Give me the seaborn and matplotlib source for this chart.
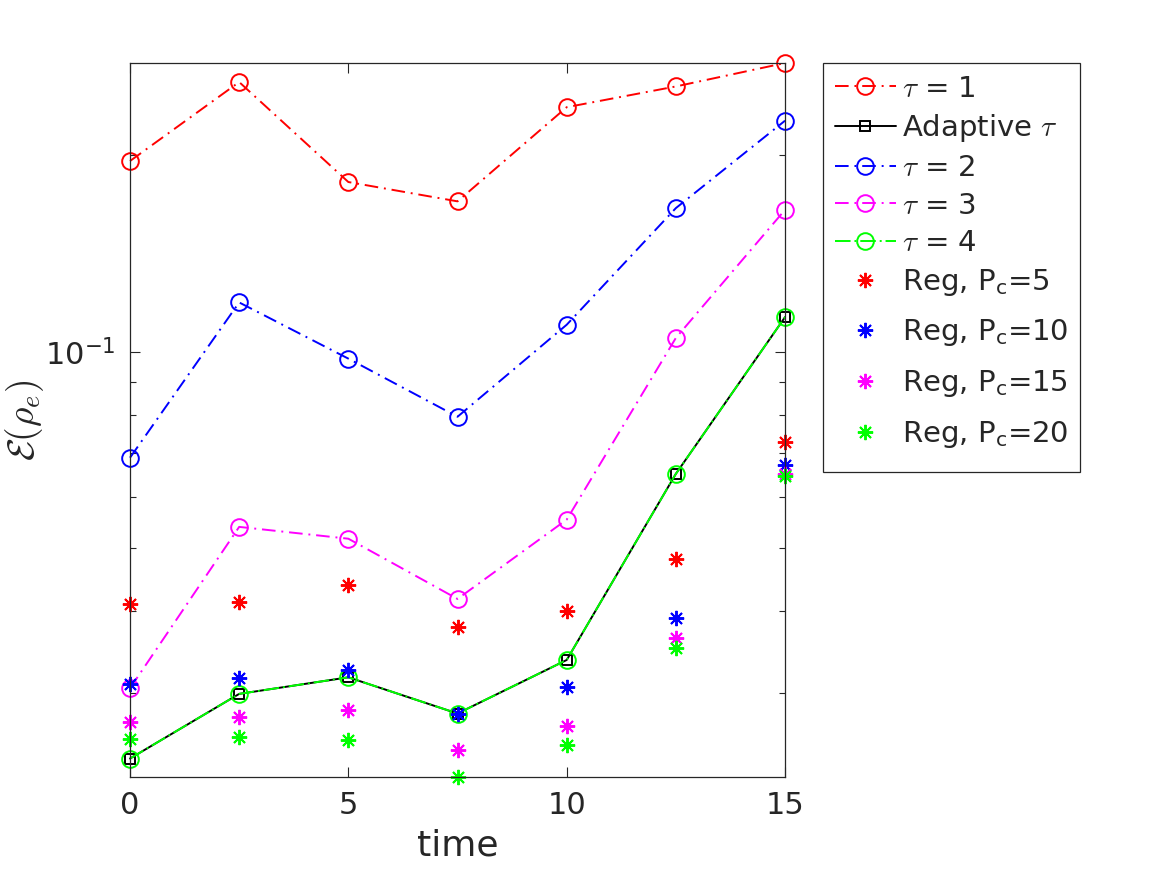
import numpy as np
import pandas as pd
import matplotlib
matplotlib.use("Agg")
import matplotlib.pyplot as plt
import seaborn as sns
from matplotlib.ticker import LogLocator, NullFormatter, FixedLocator, FixedFormatter

sns.set_style("ticks")
plt.rcParams['font.family'] = ['DejaVu Sans']

# valores
tiempos = [0, 2.5, 5, 7.5, 10, 12.5, 15]
tau_1 = [0.196, 0.259, 0.182, 0.170, 0.237, 0.255, 0.277]
adaptativo = [0.0238, 0.0299, 0.0317, 0.0279, 0.0337, 0.0650, 0.113]
tau_2 = [0.0688, 0.119, 0.0976, 0.0795, 0.110, 0.166, 0.226]
tau_3 = [0.0305, 0.0539, 0.0517, 0.0418, 0.0553, 0.105, 0.165]
tau_4 = [0.0238, 0.0299, 0.0317, 0.0279, 0.0337, 0.0650, 0.113]
reg_5 = [0.0411, 0.0414, 0.0439, 0.0379, 0.0401, 0.0482, 0.0728]
reg_10 = [0.0310, 0.0316, 0.0325, 0.0279, 0.0306, 0.0391, 0.0671]
reg_15 = [0.0271, 0.0276, 0.0282, 0.0245, 0.0267, 0.0364, 0.0650]
reg_20 = [0.0255, 0.0257, 0.0254, 0.0223, 0.0250, 0.0352, 0.0645]

etiquetas_tau = [r'$\tau$ = 1', r'Adaptive $\tau$', r'$\tau$ = 2', r'$\tau$ = 3', r'$\tau$ = 4']
etiquetas_reg = [r'Reg, P$_\mathregular{c}$=5', r'Reg, P$_\mathregular{c}$=10',
                 r'Reg, P$_\mathregular{c}$=15', r'Reg, P$_\mathregular{c}$=20']

rojo, azul, magenta, verde = '#FF0000', '#0000FF', '#FF00FF', '#00FF00'
punto_raya = (0, (7, 3, 1, 3))
asterisco = (8, 2, 0)

fig = plt.figure(figsize=(11.67, 8.75), dpi=100)
ax = fig.add_axes([0.1114, 0.112, 0.5613, 0.816])

# curvas con circulos
def curva(y, color, etiqueta, estilo=punto_raya, marker='o', ms=12):
    sns.lineplot(x=tiempos, y=y, ax=ax, color=color, linestyle=estilo, linewidth=1.4,
                 marker=marker, markersize=ms, markerfacecolor='none',
                 markeredgecolor=color, markeredgewidth=1.4, clip_on=False,
                 label=etiqueta, legend=False, errorbar=None)

curva(tau_1, rojo, etiquetas_tau[0])
curva(adaptativo, 'black', etiquetas_tau[1], estilo='-', marker='s', ms=7.5)
curva(tau_2, azul, etiquetas_tau[2])
curva(tau_3, magenta, etiquetas_tau[3])
curva(tau_4, verde, etiquetas_tau[4], estilo=(0, (8, 2, 1, 2)))

# regularizadas, solo asteriscos
for y, color, etiqueta in zip([reg_5, reg_10, reg_15, reg_20], [rojo, azul, magenta, verde], etiquetas_reg):
    sns.lineplot(x=tiempos, y=y, ax=ax, color=color, linestyle='none',
                 marker=asterisco, markersize=11, markeredgecolor=color,
                 markeredgewidth=1.4, clip_on=False, label=etiqueta,
                 legend=False, errorbar=None)

todos = tau_1 + tau_2 + tau_3 + tau_4 + reg_5 + reg_10 + reg_15 + reg_20
ax.set_yscale('log')
ax.set_xlim(0, 15)
ax.set_ylim(min(todos), max(todos))
ax.set_xticks([0, 5, 10, 15])
ax.yaxis.set_major_locator(FixedLocator([0.1]))
ax.yaxis.set_major_formatter(FixedFormatter([r'10$^{\mathregular{-1}}$']))
ax.yaxis.set_minor_locator(LogLocator(base=10, subs=np.arange(2, 10)))
ax.yaxis.set_minor_formatter(NullFormatter())

gris = '#262626'
for lado in ['top', 'right', 'bottom', 'left']:
    ax.spines[lado].set_visible(True)
    ax.spines[lado].set_color(gris)
    ax.spines[lado].set_linewidth(0.9)
ax.tick_params(which='both', direction='in', top=True, right=True, colors=gris, width=0.8)
ax.tick_params(which='major', length=7, labelsize=22, pad=10)
ax.tick_params(which='minor', length=4)

ax.set_xlabel('time', fontsize=26, color=gris, labelpad=6)
ax.set_ylabel(r'$\mathcal{E}(\rho_e)$', fontsize=27, color=gris, math_fontfamily='cm')
ax.yaxis.set_label_coords(-0.128, 0.5)

ley = ax.legend(loc='upper left', bbox_to_anchor=(823 / 1167, 1 - 63 / 875),
                bbox_transform=fig.transFigure, borderaxespad=0, fontsize=21,
                frameon=True, fancybox=False, edgecolor=gris, framealpha=1,
                borderpad=0.4, handlelength=2.1, handletextpad=0.2, labelspacing=0.33)
ley.get_frame().set_linewidth(0.9)
for t in ley.get_texts()[:5]:
    t.set_math_fontfamily('cm')

# filas con subindice algo mas altas, como en el original
filas = ley._legend_handle_box.get_children()[0].get_children()
for fila in filas[5:]:
    caja = fila.get_children()[0]
    caja.height += 13
    caja.ydescent += 13

fig.savefig('out.png', dpi=100)
